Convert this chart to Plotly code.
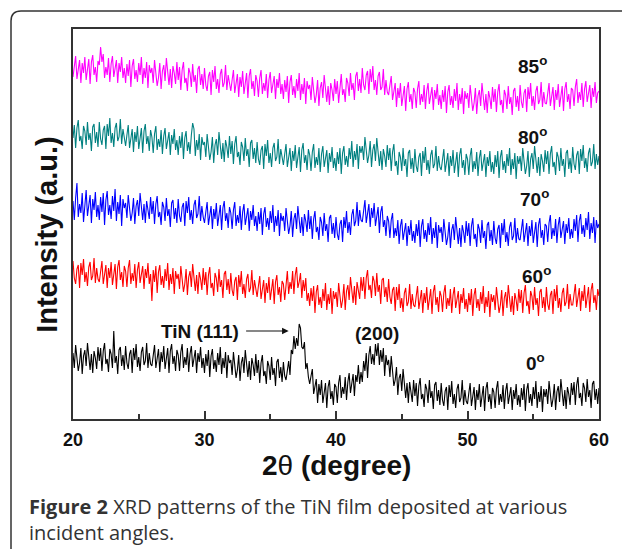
import plotly.graph_objects as go

# 2-theta scan positions (degrees), 0.1 degree step from 20 to 60
two_theta = [round(20 + 0.1 * i, 1) for i in range(401)]

# Stacked XRD intensities (a.u., offsets included), one row = 2 degrees
int_0 = [
    66, 51, 74, 62, 48, 56, 71, 45, 63, 69, 53, 76, 58, 49, 65, 46, 68, 61, 50, 72,
    58, 71, 48, 68, 76, 55, 60, 47, 70, 65, 51, 88, 56, 63, 45, 69, 72, 53, 64, 49,
    73, 56, 50, 65, 69, 46, 71, 59, 75, 52, 62, 48, 67, 72, 54, 58, 76, 51, 66, 55,
    53, 64, 74, 51, 62, 70, 47, 67, 57, 73, 50, 59, 71, 46, 68, 75, 55, 63, 48, 69,
    64, 48, 67, 75, 51, 62, 54, 71, 47, 65, 73, 52, 59, 69, 46, 66, 57, 72, 51, 61,
    46, 65, 53, 69, 42, 63, 70, 50, 59, 47, 66, 54, 72, 45, 61, 51, 67, 41, 64, 56,
    59, 44, 67, 55, 41, 49, 64, 38, 56, 62, 46, 69, 51, 42, 58, 39, 61, 54, 43, 65,
    46, 59, 36, 56, 64, 43, 48, 35, 58, 53, 39, 62, 44, 51, 33, 57, 60, 41, 52, 37,
    57, 43, 39, 52, 58, 44, 69, 65, 83, 70, 81, 73, 95, 91, 72, 70, 77, 50, 56, 42,
    35, 43, 50, 25, 34, 40, 16, 35, 24, 39, 16, 24, 36, 11, 32, 39, 20, 28, 14, 35,
    32, 16, 36, 44, 21, 32, 25, 42, 19, 37, 46, 26, 34, 45, 23, 44, 37, 54, 35, 47,
    37, 58, 48, 66, 41, 64, 73, 55, 65, 54, 75, 63, 76, 54, 69, 57, 71, 43, 64, 54,
    59, 42, 63, 49, 33, 39, 52, 24, 41, 45, 28, 50, 31, 21, 36, 16, 37, 29, 17, 39,
    23, 36, 13, 33, 41, 20, 25, 12, 35, 30, 16, 39, 21, 28, 10, 34, 37, 18, 29, 14,
    36, 19, 13, 28, 32, 9, 34, 22, 38, 15, 25, 11, 30, 35, 17, 21, 39, 14, 29, 18,
    15, 26, 36, 13, 24, 32, 9, 29, 19, 35, 12, 21, 33, 8, 30, 37, 17, 25, 10, 31,
    27, 11, 30, 38, 14, 25, 17, 34, 10, 28, 36, 15, 22, 32, 9, 29, 20, 35, 14, 24,
    12, 31, 19, 35, 8, 29, 36, 16, 25, 13, 32, 20, 38, 11, 27, 17, 33, 7, 30, 22,
    30, 15, 38, 26, 12, 20, 35, 9, 27, 33, 17, 40, 22, 13, 29, 10, 32, 25, 14, 36,
    24, 37, 14, 34, 42, 21, 26, 13, 36, 31, 17, 40, 22, 29, 11, 35, 38, 19, 30, 15,
    31,
]
int_60 = [
    158, 141, 135, 150, 154, 131, 156, 144, 160, 137, 147, 133, 152, 157, 139, 143, 161, 136, 151, 140,
    137, 148, 158, 135, 146, 154, 131, 151, 141, 157, 134, 143, 155, 130, 152, 159, 139, 147, 132, 153,
    148, 132, 151, 159, 135, 146, 138, 155, 131, 149, 157, 136, 143, 153, 130, 150, 141, 156, 135, 145,
    118, 149, 137, 153, 126, 147, 154, 134, 143, 131, 150, 138, 156, 129, 145, 135, 151, 125, 148, 140,
    145, 130, 153, 141, 127, 135, 150, 124, 142, 148, 132, 155, 137, 128, 144, 125, 147, 140, 129, 151,
    134, 147, 124, 144, 152, 131, 136, 123, 146, 141, 127, 150, 132, 139, 121, 145, 148, 129, 140, 125,
    146, 129, 123, 138, 142, 119, 144, 132, 148, 125, 135, 121, 140, 145, 127, 131, 149, 124, 139, 128,
    122, 133, 143, 120, 131, 139, 116, 136, 126, 142, 119, 128, 140, 115, 137, 144, 124, 132, 117, 138,
    135, 119, 139, 148, 125, 137, 130, 148, 125, 144, 152, 131, 137, 146, 121, 139, 128, 141, 118, 126,
    113, 131, 118, 133, 106, 127, 134, 114, 122, 111, 130, 118, 136, 109, 125, 115, 131, 105, 128, 120,
    127, 112, 136, 124, 111, 119, 135, 109, 128, 134, 119, 142, 125, 116, 133, 114, 137, 130, 120, 142,
    128, 142, 120, 141, 149, 129, 134, 121, 143, 138, 123, 146, 127, 134, 115, 139, 141, 122, 132, 117,
    140, 122, 115, 129, 132, 108, 132, 119, 135, 111, 121, 107, 126, 131, 113, 117, 135, 110, 125, 114,
    112, 123, 133, 110, 121, 129, 106, 126, 116, 132, 109, 118, 130, 105, 127, 134, 114, 122, 107, 128,
    123, 107, 126, 134, 110, 121, 113, 130, 106, 124, 132, 111, 118, 128, 105, 125, 116, 131, 110, 120,
    107, 126, 114, 130, 103, 124, 131, 111, 120, 108, 127, 115, 133, 106, 122, 112, 128, 102, 125, 117,
    124, 109, 132, 120, 106, 114, 129, 103, 121, 127, 111, 134, 116, 107, 123, 104, 126, 119, 108, 130,
    116, 129, 106, 126, 134, 113, 118, 105, 128, 123, 109, 132, 114, 121, 103, 127, 130, 111, 122, 107,
    132, 115, 109, 124, 128, 105, 130, 118, 134, 111, 121, 107, 126, 131, 113, 117, 135, 110, 125, 114,
    114, 125, 135, 112, 123, 131, 108, 128, 118, 134, 111, 120, 132, 107, 129, 136, 116, 124, 109, 130,
    123,
]
int_70 = [
    218, 199, 221, 236, 202, 215, 206, 226, 197, 219, 229, 203, 212, 224, 196, 220, 209, 227, 202, 214,
    199, 222, 207, 226, 194, 219, 228, 204, 214, 200, 223, 208, 230, 198, 217, 205, 224, 193, 220, 211,
    216, 201, 224, 212, 198, 206, 221, 195, 213, 219, 203, 226, 208, 199, 215, 196, 218, 211, 200, 222,
    205, 218, 195, 215, 223, 202, 207, 194, 217, 212, 198, 221, 203, 210, 192, 216, 219, 200, 211, 196,
    220, 203, 197, 212, 216, 193, 218, 206, 222, 199, 209, 195, 214, 219, 201, 205, 223, 198, 213, 202,
    196, 207, 217, 194, 205, 213, 190, 210, 200, 216, 193, 202, 214, 189, 211, 218, 198, 206, 191, 212,
    206, 190, 209, 217, 193, 204, 196, 213, 189, 207, 215, 194, 201, 211, 188, 208, 199, 214, 193, 203,
    188, 207, 195, 211, 184, 205, 212, 192, 201, 189, 208, 196, 214, 187, 203, 193, 209, 183, 206, 198,
    203, 188, 211, 199, 185, 193, 208, 182, 200, 206, 190, 213, 195, 186, 202, 183, 205, 198, 187, 209,
    190, 203, 180, 200, 208, 187, 192, 179, 202, 197, 183, 206, 188, 195, 177, 201, 204, 185, 196, 181,
    202, 185, 179, 195, 199, 177, 202, 191, 208, 186, 197, 184, 204, 210, 193, 198, 217, 193, 209, 199,
    197, 209, 219, 196, 207, 215, 192, 211, 201, 216, 193, 201, 212, 186, 207, 213, 192, 199, 183, 203,
    198, 181, 199, 206, 181, 191, 183, 199, 175, 193, 200, 179, 186, 196, 173, 193, 184, 199, 178, 188,
    176, 195, 183, 199, 172, 193, 200, 180, 189, 177, 196, 184, 202, 175, 191, 181, 197, 171, 194, 186,
    192, 177, 200, 188, 174, 182, 197, 171, 189, 195, 179, 202, 184, 175, 191, 172, 194, 187, 176, 198,
    183, 196, 173, 193, 201, 180, 185, 172, 195, 190, 176, 199, 181, 188, 170, 194, 197, 178, 189, 174,
    198, 181, 175, 190, 194, 171, 196, 184, 200, 177, 187, 173, 192, 197, 179, 183, 201, 176, 191, 180,
    179, 190, 200, 177, 188, 196, 173, 193, 183, 199, 176, 185, 197, 172, 194, 201, 181, 189, 174, 195,
    193, 177, 196, 204, 180, 191, 183, 200, 176, 194, 202, 181, 188, 198, 175, 195, 186, 201, 180, 190,
    181, 200, 188, 204, 177, 198, 205, 185, 194, 182, 201, 189, 207, 180, 196, 186, 202, 176, 199, 191,
    195,
]
int_80 = [
    281, 294, 271, 291, 299, 278, 283, 270, 293, 288, 274, 297, 279, 286, 268, 292, 295, 276, 287, 272,
    297, 280, 274, 289, 293, 270, 295, 283, 301, 276, 286, 272, 291, 296, 278, 282, 300, 275, 290, 279,
    273, 284, 294, 271, 282, 290, 267, 287, 277, 293, 270, 279, 291, 266, 288, 295, 275, 283, 268, 289,
    282, 266, 285, 293, 269, 280, 272, 289, 265, 283, 291, 270, 277, 287, 264, 284, 275, 290, 269, 279,
    264, 283, 271, 287, 260, 281, 288, 268, 277, 265, 284, 296, 290, 263, 279, 269, 285, 259, 282, 274,
    277, 262, 285, 273, 259, 267, 282, 256, 274, 280, 264, 287, 269, 260, 276, 257, 279, 272, 261, 283,
    265, 278, 255, 275, 283, 262, 267, 254, 277, 272, 258, 281, 263, 270, 252, 276, 279, 260, 271, 256,
    277, 260, 254, 269, 273, 250, 275, 263, 279, 256, 266, 252, 271, 276, 258, 262, 280, 255, 270, 259,
    254, 265, 275, 252, 263, 271, 248, 268, 258, 274, 251, 260, 272, 247, 269, 276, 256, 264, 249, 270,
    264, 248, 267, 275, 251, 262, 254, 271, 247, 265, 273, 252, 259, 269, 246, 266, 257, 272, 251, 261,
    248, 267, 255, 271, 245, 266, 273, 254, 263, 252, 271, 260, 278, 252, 268, 259, 275, 250, 273, 266,
    273, 259, 282, 270, 256, 264, 278, 252, 269, 275, 258, 281, 262, 253, 268, 249, 270, 263, 252, 274,
    259, 271, 248, 267, 275, 253, 258, 244, 267, 262, 248, 271, 253, 260, 242, 266, 269, 250, 261, 246,
    270, 253, 247, 262, 266, 243, 268, 256, 272, 249, 259, 245, 264, 269, 251, 255, 273, 248, 263, 252,
    249, 260, 270, 247, 258, 266, 243, 263, 253, 269, 246, 255, 267, 242, 264, 271, 251, 259, 244, 265,
    260, 244, 263, 271, 247, 258, 250, 267, 243, 261, 269, 248, 255, 265, 242, 262, 253, 268, 247, 257,
    245, 264, 252, 268, 241, 262, 269, 249, 258, 246, 265, 253, 271, 244, 260, 250, 266, 240, 263, 255,
    263, 248, 271, 259, 245, 253, 268, 242, 260, 266, 250, 273, 255, 246, 262, 243, 265, 258, 247, 269,
    255, 268, 245, 265, 273, 252, 257, 244, 267, 262, 248, 271, 253, 260, 242, 266, 269, 250, 261, 246,
    272, 255, 249, 264, 268, 245, 270, 258, 274, 251, 261, 247, 266, 271, 253, 257, 275, 250, 265, 254,
    263,
]
int_85 = [
    342, 353, 363, 340, 351, 359, 336, 356, 346, 362, 339, 348, 360, 335, 357, 364, 344, 352, 337, 358,
    354, 372, 357, 365, 341, 352, 344, 361, 337, 355, 363, 342, 349, 359, 336, 356, 347, 362, 341, 351,
    336, 355, 343, 359, 332, 353, 360, 340, 349, 337, 356, 344, 362, 335, 351, 341, 357, 331, 354, 346,
    351, 336, 359, 347, 333, 341, 356, 330, 348, 354, 338, 361, 343, 334, 350, 331, 353, 346, 335, 357,
    339, 352, 329, 349, 357, 336, 341, 328, 351, 346, 332, 355, 337, 344, 326, 350, 353, 334, 345, 330,
    351, 334, 328, 343, 347, 324, 349, 337, 353, 330, 340, 326, 345, 350, 332, 336, 354, 329, 344, 333,
    328, 339, 349, 326, 337, 345, 322, 342, 332, 348, 325, 334, 346, 321, 343, 350, 330, 338, 323, 344,
    338, 322, 341, 349, 325, 336, 328, 345, 321, 339, 347, 326, 333, 343, 320, 340, 331, 346, 325, 335,
    320, 339, 327, 343, 316, 337, 344, 324, 333, 321, 340, 328, 346, 319, 335, 325, 341, 315, 338, 330,
    334, 319, 342, 330, 316, 324, 339, 313, 331, 337, 321, 344, 326, 317, 333, 314, 336, 329, 318, 340,
    325, 338, 316, 336, 345, 324, 330, 317, 341, 336, 323, 346, 329, 336, 319, 343, 347, 328, 340, 326,
    351, 334, 329, 344, 348, 325, 350, 337, 353, 329, 339, 324, 343, 347, 329, 332, 350, 324, 339, 327,
    324, 334, 343, 319, 329, 336, 312, 331, 321, 336, 313, 321, 333, 308, 330, 337, 317, 325, 310, 331,
    327, 311, 330, 338, 314, 325, 317, 334, 310, 328, 336, 315, 322, 332, 309, 329, 320, 335, 314, 324,
    310, 329, 317, 333, 306, 327, 334, 314, 323, 311, 330, 318, 336, 309, 325, 315, 331, 305, 328, 320,
    326, 311, 334, 322, 308, 316, 331, 305, 323, 329, 313, 336, 318, 309, 325, 306, 328, 321, 310, 332,
    317, 330, 307, 327, 335, 314, 319, 306, 329, 324, 310, 333, 315, 322, 304, 328, 331, 312, 323, 308,
    334, 317, 311, 326, 330, 307, 332, 320, 336, 313, 323, 309, 328, 333, 315, 319, 337, 312, 327, 316,
    315, 326, 336, 313, 324, 332, 309, 329, 319, 335, 312, 321, 333, 308, 330, 337, 317, 325, 310, 331,
    329, 313, 332, 340, 316, 327, 319, 336, 312, 330, 338, 317, 324, 334, 311, 331, 322, 337, 316, 326,
    328,
]

angle_labels = ["0", "60", "70", "80", "85"]
series = [int_0, int_60, int_70, int_80, int_85]
colors = ["#000000", "#ff0000", "#0000ff", "#008080", "#ff00ff"]
label_x = [54.3, 54.0, 53.87, 53.72, 53.72]
label_y = [57, 144, 221, 283, 354]

x_ticks = [20, 30, 40, 50, 60]

FONT = "Liberation Sans, Arial, sans-serif"
CAPTION_FONT = "Open Sans, sans-serif"

fig = go.Figure()
for ys, c in zip(series, colors):
    fig.add_trace(go.Scatter(
        x=two_theta, y=ys, mode="lines",
        line=dict(color=c, width=1.1),
        showlegend=False, hoverinfo="skip",
    ))

annotations = []
for lab, lx, ly in zip(angle_labels, label_x, label_y):
    annotations.append(dict(
        x=lx, y=ly, xref="x", yref="y", xanchor="left", yanchor="middle",
        text=f"<b>{lab}<sup>o</sup></b>", showarrow=False,
        font=dict(family=FONT, size=19, color="#111"),
    ))

# Peak markers
annotations.append(dict(
    x=32.76, y=88, xref="x", yref="y", xanchor="right", yanchor="middle",
    text="<b>TiN (111)</b>", showarrow=False,
    font=dict(family=FONT, size=19, color="#111"),
))
annotations.append(dict(
    x=36.4, y=88, xref="x", yref="y", ax=33.05, ay=88, axref="x", ayref="y",
    text="", showarrow=True, arrowhead=2, arrowsize=1.1, arrowwidth=1.2,
    arrowcolor="#111",
))
annotations.append(dict(
    x=43.1, y=86, xref="x", yref="y", xanchor="center", yanchor="middle",
    text="<b>(200)</b>", showarrow=False,
    font=dict(family=FONT, size=19, color="#111"),
))

# Axis titles
annotations.append(dict(
    x=0.5, y=-0.118, xref="paper", yref="paper", xanchor="center", yanchor="middle",
    text="<b>2</b>θ <b>(degree)</b>", showarrow=False,
    font=dict(family=FONT, size=28, color="#111"),
))
annotations.append(dict(
    x=-0.05, y=0.474, xref="paper", yref="paper", xanchor="center", yanchor="middle",
    text="<b>Intensity (a.u.)</b>", textangle=-90, showarrow=False,
    font=dict(family=FONT, size=29, color="#111"),
))


# Pixel -> paper coordinate helpers for items placed outside the plot area
def px(xp):
    return (xp - 73) / 526


def py(yp):
    return (419 - yp) / 390


# Caption (two lines)
annotations.append(dict(
    x=px(27), y=py(519), xref="paper", yref="paper",
    xanchor="left", yanchor="middle",
    text="<b>Figure 2</b> XRD patterns of the TiN film deposited at various"
         "<br>incident angles.",
    showarrow=False, align="left",
    font=dict(family=CAPTION_FONT, size=20, color="#333"),
))

# Rounded frame around the figure panel
frame = (f"M{px(11)},{py(570)} L{px(11)},{py(21)} "
         f"Q{px(11)},{py(11)} {px(21)},{py(11)} L{px(640)},{py(11)}")

fig.update_layout(
    width=622, height=549,
    margin=dict(l=73, r=23, t=29, b=130),
    paper_bgcolor="white", plot_bgcolor="white",
    annotations=annotations,
    shapes=[dict(type="path", path=frame, xref="paper", yref="paper",
                 line=dict(color="#333", width=1.5))],
    xaxis=dict(
        range=[20, 60], tickvals=x_ticks, ticktext=[str(v) for v in x_ticks],
        ticks="inside", ticklen=8, tickwidth=1.5, tickcolor="#333",
        ticklabelstandoff=4,
        minor=dict(dtick=5, tick0=20, ticks="inside", ticklen=5,
                   tickwidth=1.5, tickcolor="#333"),
        showline=True, mirror=True, linecolor="#333", linewidth=1.5,
        showgrid=False, zeroline=False,
        tickfont=dict(family=FONT, size=18, color="#111", weight="bold"),
    ),
    yaxis=dict(
        range=[0, 390], showticklabels=False, ticks="",
        showline=True, mirror=True, linecolor="#333", linewidth=1.5,
        showgrid=False, zeroline=False,
    ),
)

fig.write_html("out.html")
